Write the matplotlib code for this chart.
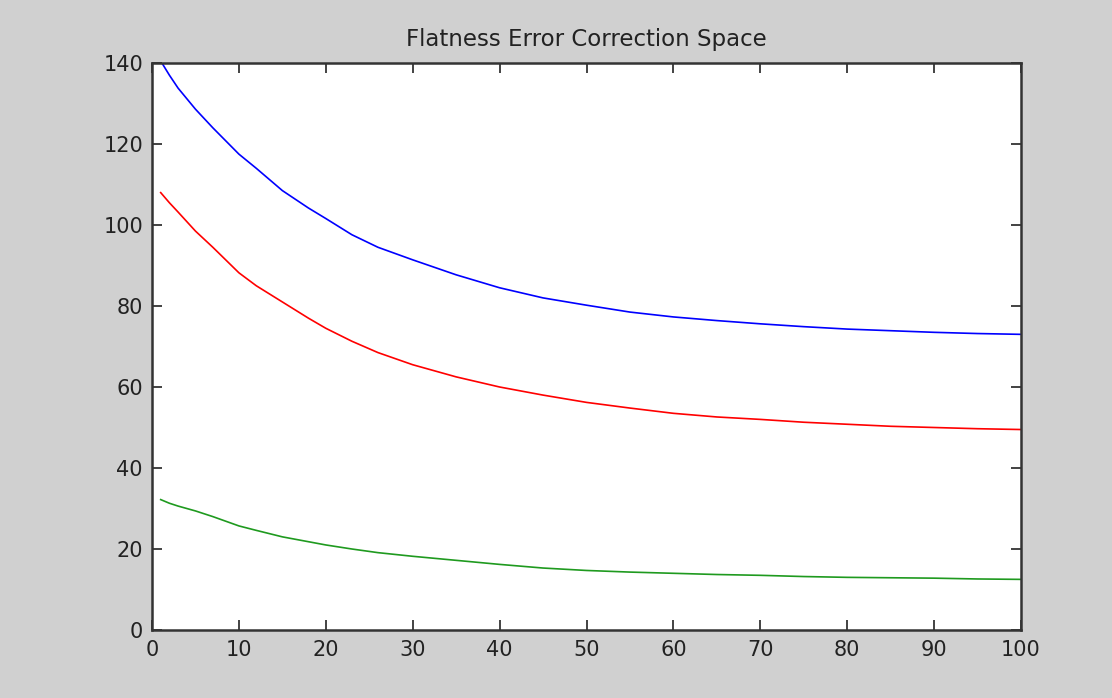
import numpy as np
import matplotlib.pyplot as plt

# sampled positions along the curves
x = [1, 2, 3, 5, 7, 10, 12, 15, 18, 20, 23, 26, 30, 35, 40, 45, 50,
     55, 60, 65, 70, 75, 80, 85, 90, 95, 100]

blue_vals = [140.5, 137, 133.8, 128.6, 124, 117.5, 114, 108.5, 104.2, 101.6, 97.6, 94.5, 91.4,
             87.7, 84.5, 82, 80.2, 78.5, 77.3, 76.4, 75.6, 74.9, 74.3, 73.9, 73.5, 73.2, 73]
red_vals = [108, 105.5, 103.2, 98.5, 94.5, 88.2, 85, 81, 77, 74.5, 71.3, 68.5, 65.5,
            62.5, 60, 58, 56.2, 54.8, 53.5, 52.6, 52, 51.3, 50.8, 50.3, 50, 49.7, 49.5]
green_vals = [32.2, 31.3, 30.6, 29.4, 28, 25.7, 24.6, 23, 21.8, 21, 20, 19.1, 18.2,
              17.2, 16.2, 15.3, 14.7, 14.3, 14, 13.7, 13.5, 13.2, 13, 12.9, 12.8, 12.6, 12.5]

xticks = [0, 10, 20, 30, 40, 50, 60, 70, 80, 90, 100]
yticks = [0, 20, 40, 60, 80, 100, 120, 140]

plt.rcParams['font.family'] = ['DejaVu Sans']

fig = plt.figure(figsize=(11.12, 6.98), dpi=100, facecolor='#d0d0d0')
ax = fig.add_axes([152 / 1112, 68 / 698, 869 / 1112, 567 / 698])
ax.set_facecolor('white')

ax.plot(x, blue_vals, color='#0000ff', lw=1.2)
ax.plot(x, red_vals, color='#ff0000', lw=1.2)
ax.plot(x, green_vals, color='#1f9a1f', lw=1.2)

ax.set_xlim(0, 100)
ax.set_ylim(0, 140)
ax.set_xticks(xticks)
ax.set_yticks(yticks)
ax.tick_params(direction='in', length=7, width=1.2, top=True, right=True,
               labelsize=15, colors='#222222')
ax.tick_params(axis='x', pad=7)
ax.tick_params(axis='y', pad=6.5)
for sp in ax.spines.values():
    sp.set_linewidth(1.8)
    sp.set_color('#333333')

ax.set_title('Flatness Error Correction Space', fontsize=16.5, color='#222222', pad=12)

fig.savefig('out.png', dpi=100, facecolor=fig.get_facecolor())
